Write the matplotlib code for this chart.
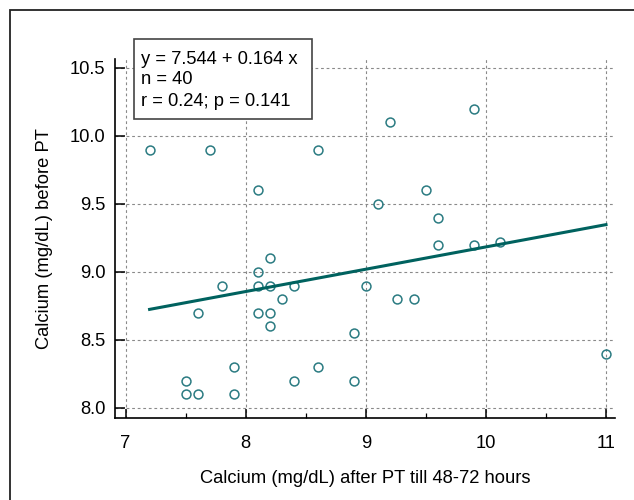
import matplotlib
matplotlib.use('Agg')
import matplotlib.pyplot as plt
from matplotlib.patches import Rectangle
import numpy as np

plt.rcParams['font.family'] = ['Liberation Sans', 'DejaVu Sans']

# Calcium after PT (x) and before PT (y)
ca_after = [7.2, 7.7, 8.6, 8.1, 9.2, 9.9, 9.1, 9.5, 9.6, 9.6, 9.9, 10.12,
            7.5, 7.5, 7.6, 7.6, 7.8, 7.9, 7.9, 8.1, 8.1, 8.2, 8.2, 8.1,
            8.2, 8.2, 8.3, 8.4, 8.4, 8.6, 9.0, 9.26, 9.4, 8.9, 8.9, 11.0]
ca_before = [9.9, 9.9, 9.9, 9.6, 10.1, 10.2, 9.5, 9.6, 9.4, 9.2, 9.2, 9.22,
             8.2, 8.1, 8.1, 8.7, 8.9, 8.3, 8.1, 9.0, 8.9, 9.1, 8.9, 8.7,
             8.7, 8.6, 8.8, 8.9, 8.2, 8.3, 8.9, 8.8, 8.8, 8.55, 8.2, 8.4]

intercept = 7.544
slope = 0.164
n_obs = 40
r_val = 0.24
p_val = 0.141

x_ticks = [7, 8, 9, 10, 11]
y_ticks = [8.0, 8.5, 9.0, 9.5, 10.0, 10.5]

fs = 13.2

fig = plt.figure(figsize=(6.34, 5.0), dpi=100)
ax = fig.add_axes([115 / 634, 1 - 418 / 500, 500 / 634, 359 / 500])

point_col = '#2b7b82'
line_col = '#00625f'

ax.plot(ca_after, ca_before, 'o', mfc='none', mec=point_col, mew=1.1,
        ms=6.4, zorder=3, clip_on=False)

xl = np.array([min(ca_after), max(ca_after)])
ax.plot(xl, intercept + slope * xl, color=line_col, lw=2.2, zorder=4)

ax.set_xlim(6.912, 11.075)
ax.set_ylim(7.926, 10.566)
ax.set_xticks(x_ticks)
ax.set_xticks([7.5, 8.5, 9.5, 10.5], minor=True)
ax.set_yticks(y_ticks)
ax.set_xticklabels([str(t) for t in x_ticks])
ax.set_yticklabels(['%.1f' % t for t in y_ticks])

ax.grid(True, which='major', linestyle=(0, (2.5, 2.5)), color='#8a8a8a', lw=0.8)
ax.set_axisbelow(True)

for s in ['top', 'right']:
    ax.spines[s].set_visible(False)
for s in ['left', 'bottom']:
    ax.spines[s].set_linewidth(1.2)

ax.tick_params(axis='both', which='major', direction='in', length=6.5,
               width=1.1, labelsize=fs, pad=10)
ax.tick_params(axis='x', which='minor', direction='in', length=3.5, width=0.9)
ax.tick_params(axis='y', which='major', length=7.5, pad=7)
ax.tick_params(axis='x', which='major', pad=12)

ax.set_xlabel('Calcium (mg/dL) after PT till 48-72 hours', fontsize=fs, labelpad=13)
ax.set_ylabel('Calcium (mg/dL) before PT', fontsize=fs, labelpad=12)

# stats box
fig.patches.append(Rectangle((134 / 634, 1 - 119 / 500), 178 / 634, 80 / 500,
                             transform=fig.transFigure, fill=True, fc='white',
                             ec='#444444', lw=1.2, zorder=5))
box_lines = ['y = %.3f + %.3f x' % (intercept, slope),
             'n = %d' % n_obs,
             'r = %.2f; p = %.3f' % (r_val, p_val)]
for i, t in enumerate(box_lines):
    fig.text(141 / 634, 1 - (59 + 21 * i) / 500, t, fontsize=fs,
             va='center', ha='left', zorder=6)

# outer frame (cropped on the right and bottom)
fig.patches.append(Rectangle((10 / 634, -0.1), 1.2, 1 - 10 / 500 + 0.1,
                             transform=fig.transFigure, fill=False,
                             ec='#222222', lw=1.3))

plt.savefig('out.png', dpi=100)
plt.close()
